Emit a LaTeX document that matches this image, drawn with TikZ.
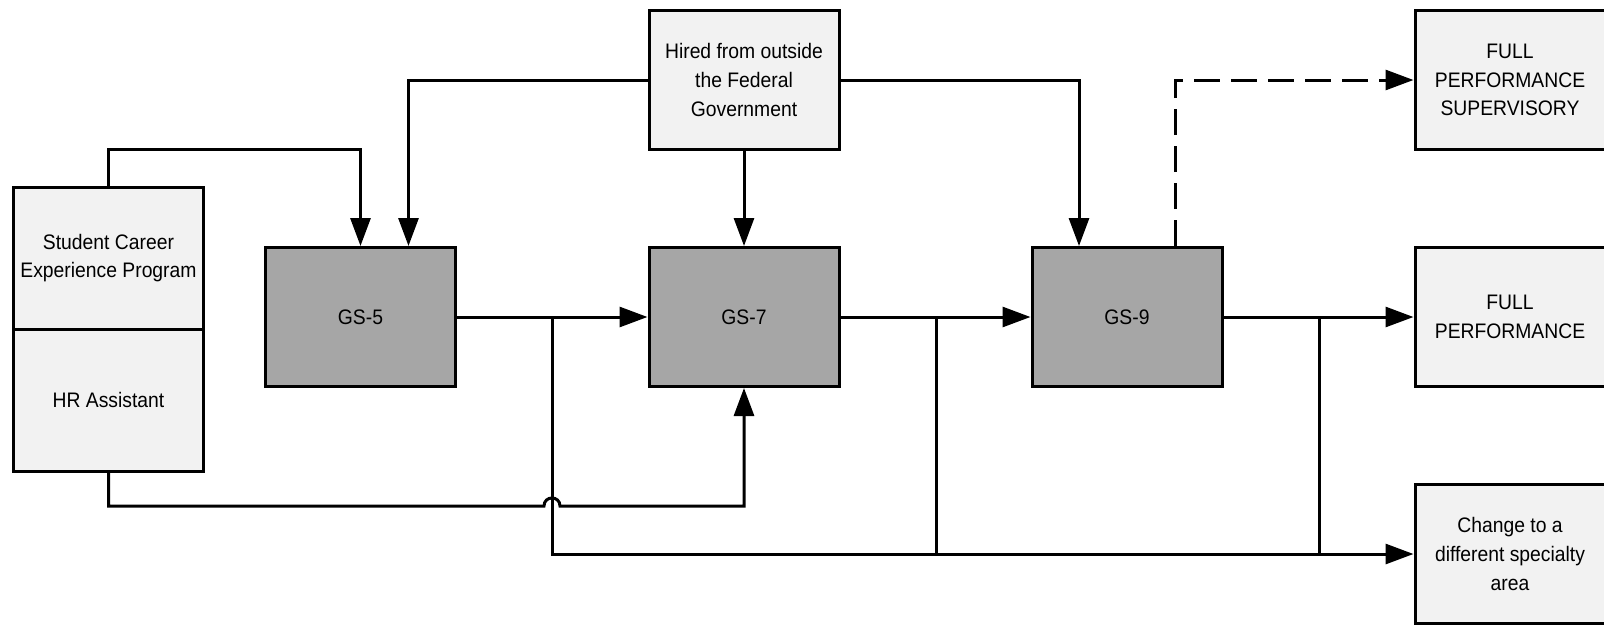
\documentclass[tikz,border=0pt]{standalone}
\usepackage{fontspec}
\setmainfont{Liberation Sans}[FakeStretch=0.92]
\usetikzlibrary{arrows.meta}
\definecolor{lightbox}{HTML}{F2F2F2}
\definecolor{darkbox}{HTML}{A6A6A6}
\begin{document}
\begin{tikzpicture}[x=1pt,y=-1pt,
  box/.style={draw=black, line width=3pt, minimum width=190pt, minimum height=139pt,
    inner sep=0pt, align=center, font=\fontsize{21}{28.8}\selectfont},
  light/.style={box, fill=lightbox},
  dark/.style={box, fill=darkbox},
  conn/.style={line width=3pt, line join=miter},
  arr/.style={conn, -{Triangle[length=28pt,width=20pt]}},
]
\fill[white] (0,0) rectangle (1604,624);
\useasboundingbox (0,0) rectangle (1604,624);

\node[light, minimum height=142pt] (stu) at (108.5,258) {Student Career\\Experience Program};
\node[light, minimum height=142pt] (hr) at (108.5,400) {HR Assistant};
\node[dark] (gs5) at (360.5,317) {GS-5};
\node[light] (hired) at (744,80) {Hired from outside\\the Federal\\Government};
\node[dark] (gs7) at (744,317) {GS-7};
\node[dark] (gs9) at (1127,317) {GS-9};
\node[light] (fps) at (1510,80) {FULL\\PERFORMANCE\\SUPERVISORY};
\node[light] (fp) at (1510,317) {FULL\\PERFORMANCE};
\node[light] (chg) at (1510,554) {Change to a\\different specialty\\area};

\coordinate (b5) at (552,317);
\coordinate (b7) at (936,317);
\coordinate (b9) at (1319,317);
\coordinate (j) at (552,506);

% top feeds
\draw[arr] (stu.north) -- ++(0,-36) -| (gs5.north);
\draw[arr] (hired.west) -| ([xshift=48pt]gs5.north);
\draw[arr] (hired.south) -- (gs7.north);
\draw[arr] (hired.east) -| ([xshift=-48pt]gs9.north);
\draw[arr, dash pattern=on 26pt off 11pt] ([xshift=48pt]gs9.north) |- (fps.west);

% main chain
\draw[arr] (gs5.east) -- (gs7.west);
\draw[arr] (gs7.east) -- (gs9.west);
\draw[arr] (gs9.east) -- (fp.west);

% change of specialty
\draw[arr] (b5) |- (chg.west);
\draw[conn] (b7) -- (b7 |- chg.west);
\draw[conn] (b9) -- (b9 |- chg.west);

% HR assistant to GS-7 with line jump
\draw[arr] (hr.south) |- ([xshift=-8pt]j)
  .. controls ([xshift=-8pt,yshift=10.67pt]j) and ([xshift=8pt,yshift=10.67pt]j) .. ([xshift=8pt]j)
  -| (gs7.south);
\end{tikzpicture}
\end{document}
